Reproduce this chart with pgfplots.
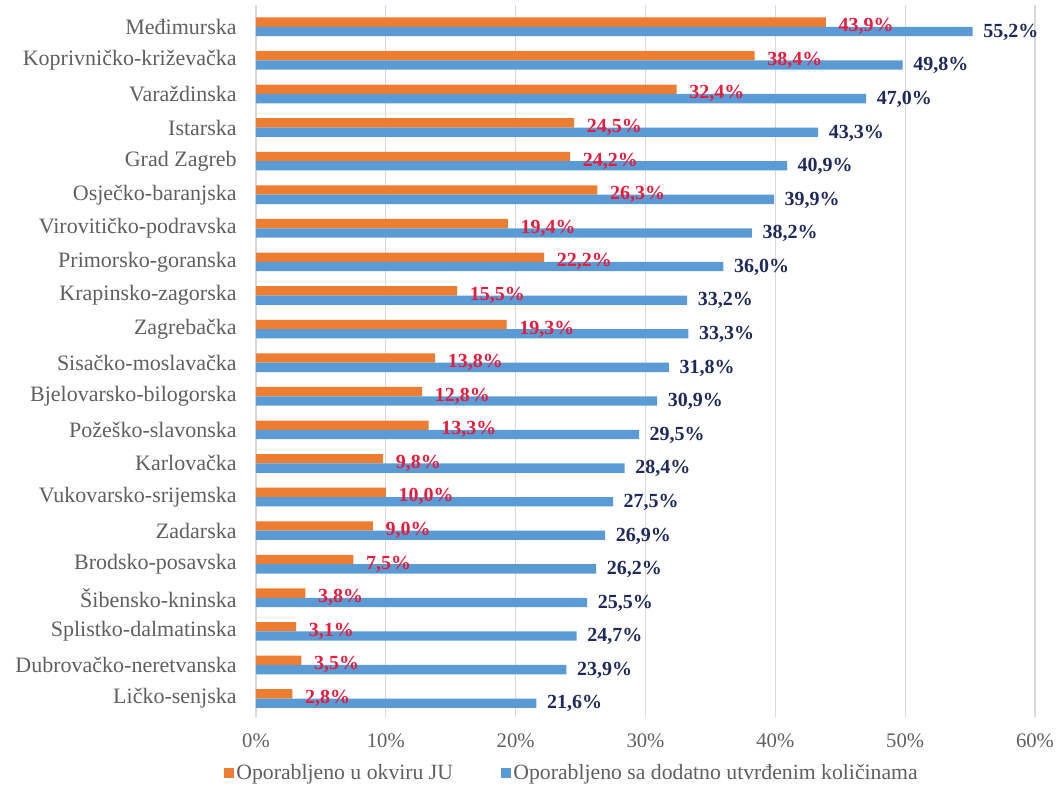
\documentclass[border=0pt]{standalone}
\usepackage{fontspec}
\setmainfont{Liberation Serif}
\usepackage{pgfplots}
\pgfplotsset{compat=1.18}
\definecolor{cOr}{RGB}{237,125,49}
\definecolor{cBl}{RGB}{91,155,213}
\definecolor{cRed}{RGB}{232,28,60}
\definecolor{cNavy}{RGB}{32,42,90}
\definecolor{cTxt}{RGB}{95,95,95}
\definecolor{cGrid}{RGB}{217,217,217}
\begin{document}
\begin{tikzpicture}[x=0.75pt,y=0.75pt]
\begin{axis}[
  anchor=south west,
  scale only axis, width=584.25pt, height=534pt,
  xbar, bar width=7pt,
  xmin=0, xmax=60, ymin=-0.55, ymax=20.65,
  xtick={0,10,...,60},
  xticklabel={\pgfmathprintnumber[assume math mode=true]{\tick}\%},
  ytick={0,...,20},
  yticklabels={Ličko-senjska, Dubrovačko-neretvanska, Splistko-dalmatinska, Šibensko-kninska, Brodsko-posavska, Zadarska, Vukovarsko-srijemska, Karlovačka, Požeško-slavonska, Bjelovarsko-bilogorska, Sisačko-moslavačka, Zagrebačka, Krapinsko-zagorska, Primorsko-goranska, Virovitičko-podravska, Osječko-baranjska, Grad Zagreb, Istarska, Varaždinska, Koprivničko-križevačka, Međimurska},
  xmajorgrids, grid style={cGrid, line width=0.8pt},
  axis line style={draw=none}, major tick length=0pt,
  tick label style={font=\fontsize{15.5}{18}\selectfont, text=cTxt},
  yticklabel style={xshift=-11pt, font=\fontsize{16.5}{19}\selectfont},
  xticklabel style={yshift=-9pt},
  legend style={at={(0.406,-0.079)}, anchor=center, draw=none, fill=none,
    legend columns=2, font=\fontsize{16.3}{19}\selectfont, text=cTxt,
    /tikz/every even column/.append style={column sep=34pt},
    legend cell align=left},
  legend image code/.code={\fill[#1] (0pt,-3.6pt) rectangle (7.2pt,3.6pt);},
]
\addplot[fill=cOr, draw=none, bar shift=3.5pt, point meta=x,
  nodes near coords={\pgfmathprintnumber[assume math mode=true,fixed,fixed zerofill,precision=1,use comma]{\pgfplotspointmeta}\%},
  nodes near coords style={font=\bfseries\fontsize{15}{18}\selectfont, text=cRed, anchor=west, xshift=6pt, yshift=-3.4pt}]
coordinates {
(2.8,0) (3.5,1) (3.1,2) (3.8,3) (7.5,4) (9.0,5) (10.0,6) (9.8,7) (13.3,8) (12.8,9)
(13.8,10) (19.3,11) (15.5,12) (22.2,13) (19.4,14) (26.3,15) (24.2,16) (24.5,17) (32.4,18) (38.4,19) (43.9,20)};
\addlegendentry{Oporabljeno u okviru JU}
\addplot[fill=cBl, draw=none, bar shift=-3.5pt, point meta=x,
  nodes near coords={\pgfmathprintnumber[assume math mode=true,fixed,fixed zerofill,precision=1,use comma]{\pgfplotspointmeta}\%},
  nodes near coords style={font=\bfseries\fontsize{15}{18}\selectfont, text=cNavy, anchor=west, xshift=4.5pt, yshift=-0.5pt}]
coordinates {
(21.6,0) (23.9,1) (24.7,2) (25.5,3) (26.2,4) (26.9,5) (27.5,6) (28.4,7) (29.5,8) (30.9,9)
(31.8,10) (33.3,11) (33.2,12) (36.0,13) (38.2,14) (39.9,15) (40.9,16) (43.3,17) (47.0,18) (49.8,19) (55.2,20)};
\addlegendentry{Oporabljeno sa dodatno utvrđenim količinama}
\end{axis}
\pgfresetboundingbox
\path[use as bounding box] (-256,-68) rectangle (802,717);
\end{tikzpicture}
\end{document}
